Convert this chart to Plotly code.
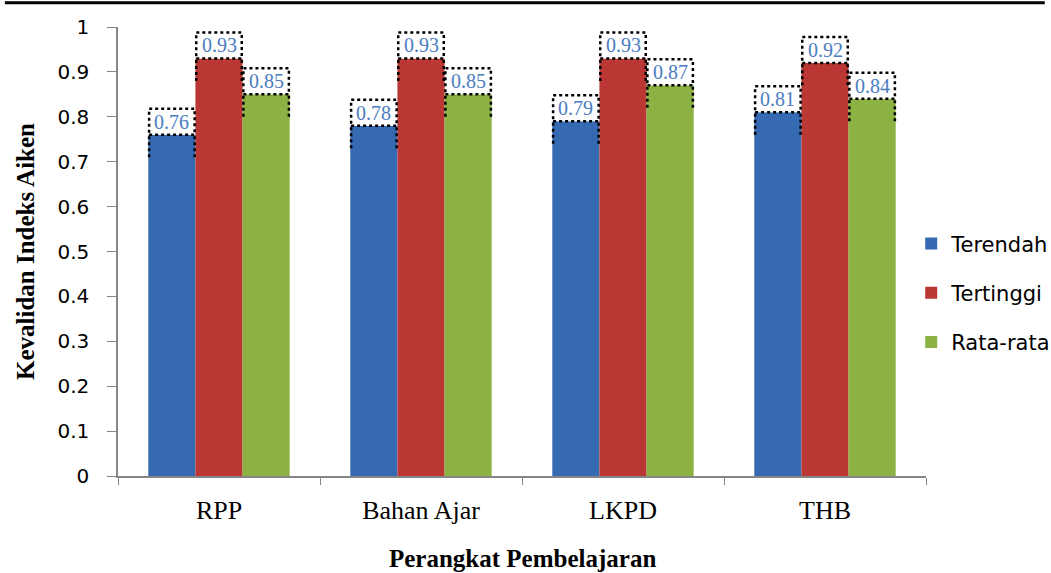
import plotly.graph_objects as go

categories = ["RPP", "Bahan Ajar", "LKPD", "THB"]
terendah = [0.76, 0.78, 0.79, 0.81]
tertinggi = [0.93, 0.93, 0.93, 0.92]
rata_rata = [0.85, 0.85, 0.87, 0.84]

series = [
    ("Terendah", terendah, "#3569b1"),
    ("Tertinggi", tertinggi, "#ba3733"),
    ("Rata-rata", rata_rata, "#8db244"),
]

BARGAP = 0.3
n_series = len(series)
bar_w = (1 - BARGAP) / n_series

fig = go.Figure()
for k, (name, vals, color) in enumerate(series):
    fig.add_trace(go.Bar(
        name=name, x=categories, y=vals,
        marker=dict(color=color, line=dict(width=0)),
        legendgroup=name,
    ))

# dotted label boxes sitting on each bar top
shapes = []
annotations = []
box_h = 0.058
drop = 0.05
for k, (name, vals, color) in enumerate(series):
    off = (k - (n_series - 1) / 2) * bar_w
    for i, v in enumerate(vals):
        xc = i + off
        x0, x1 = xc - bar_w / 2 + 0.004, xc + bar_w / 2 - 0.004
        dot = dict(color="black", width=2.5, dash="dot")
        shapes.append(dict(type="rect", xref="x", yref="y", x0=x0, x1=x1,
                           y0=v, y1=v + box_h, line=dot, fillcolor="white",
                           layer="above"))
        for xe in (x0, x1):
            shapes.append(dict(type="line", xref="x", yref="y", x0=xe, x1=xe,
                               y0=v - drop, y1=v, line=dot, layer="above"))
        annotations.append(dict(
            x=xc, y=v + box_h / 2, xref="x", yref="y", text=f"{v:.2f}",
            showarrow=False, font=dict(family="Liberation Serif", size=20,
                                       color="#4a7dbf"),
        ))

# rule across the top of the page
shapes.append(dict(type="line", xref="paper", yref="paper", x0=-0.14, x1=1.147,
                   y0=1.054, y1=1.054, line=dict(color="black", width=3)))

annotations.append(dict(
    text="<b>Perangkat Pembelajaran</b>", xref="paper", yref="paper",
    x=0.5, y=-0.183, yanchor="middle", showarrow=False,
    font=dict(family="Liberation Serif", size=25, color="black"),
))

fig.update_layout(
    width=1051, height=573,
    margin=dict(l=118, r=125, t=27, b=97, autoexpand=False),
    paper_bgcolor="white", plot_bgcolor="white",
    barmode="group", bargap=BARGAP, bargroupgap=0,
    shapes=shapes, annotations=annotations,
    showlegend=True,
    legend=dict(xref="container", yref="container",
                x=0.867, xanchor="left", y=0.489, yanchor="middle",
                font=dict(family="DejaVu Sans", size=21, color="black"),
                tracegroupgap=19, itemwidth=30),
    xaxis=dict(
        type="category", tickson="boundaries", ticks="outside", ticklen=7,
        tickcolor="#868686", showline=True, linecolor="#868686", linewidth=1.5,
        showgrid=False, range=[-0.5, 3.5], ticklabelstandoff=10,
        tickfont=dict(family="Liberation Serif", size=26, color="black"),
    ),
    yaxis=dict(
        range=[0, 1], dtick=0.1, ticks="outside", ticklen=9,
        tickcolor="#868686", showline=True, linecolor="#868686", linewidth=1.5,
        showgrid=False, zeroline=False, tickformat="~g", ticklabelstandoff=14,
        tickfont=dict(family="DejaVu Sans", size=20, color="black"),
        title=dict(text="<b>Kevalidan Indeks Aiken</b>", standoff=16,
                   font=dict(family="Liberation Serif", size=25, color="black")),
    ),
)

fig.write_html("out.html")
